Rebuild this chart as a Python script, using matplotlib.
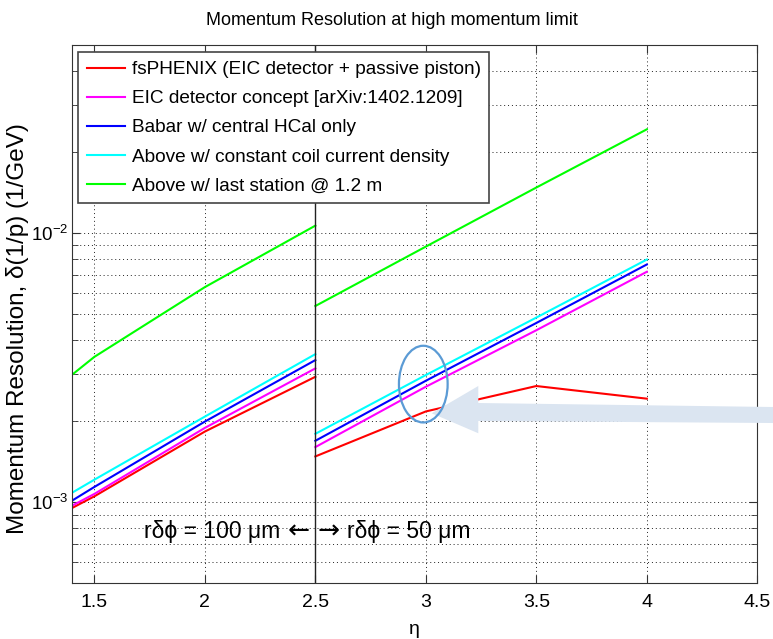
import matplotlib
matplotlib.use("Agg")
import matplotlib.pyplot as plt
from matplotlib.patches import Ellipse, Polygon
from matplotlib.ticker import LogLocator, NullFormatter

plt.rcParams["font.family"] = ["Liberation Sans", "DejaVu Sans"]
plt.rcParams["mathtext.default"] = "regular"

# eta points: inner region (r dphi = 100 um) and outer region (r dphi = 50 um)
eta_in = [1.4, 1.5, 2.0, 2.5]
eta_out = [2.5, 3.0, 3.5, 4.0]

# momentum resolution delta(1/p) in 1/GeV
fsphenix_in = [9.53e-4, 1.052e-3, 1.831e-3, 2.925e-3]
fsphenix_out = [1.480e-3, 2.175e-3, 2.703e-3, 2.426e-3]
eic_in = [9.72e-4, 1.074e-3, 1.889e-3, 3.143e-3]
eic_out = [1.603e-3, 2.687e-3, 4.356e-3, 7.184e-3]
babar_in = [1.015e-3, 1.140e-3, 1.994e-3, 3.374e-3]
babar_out = [1.692e-3, 2.828e-3, 4.636e-3, 7.647e-3]
coil_in = [1.086e-3, 1.213e-3, 2.081e-3, 3.551e-3]
coil_out = [1.796e-3, 2.969e-3, 4.855e-3, 7.977e-3]
station_in = [2.981e-3, 3.469e-3, 6.30e-3, 1.066e-2]
station_out = [5.36e-3, 8.91e-3, 1.477e-2, 2.43e-2]

labels = [
    "fsPHENIX (EIC detector + passive piston)",
    "EIC detector concept [arXiv:1402.1209]",
    "Babar w/ central HCal only",
    "Above w/ constant coil current density",
    "Above w/ last station @ 1.2 m",
]
colors = ["#ff0000", "#ff00ff", "#0000ff", "#00ffff", "#00ff00"]

xticks = [1.5, 2.0, 2.5, 3.0, 3.5, 4.0, 4.5]
xtick_labels = ["1.5", "2", "2.5", "3", "3.5", "4", "4.5"]

series = [
    (fsphenix_in, fsphenix_out),
    (eic_in, eic_out),
    (babar_in, babar_out),
    (coil_in, coil_out),
    (station_in, station_out),
]

fig = plt.figure(figsize=(7.73, 6.39), dpi=100)
ax = fig.add_axes([0.0935, 0.0872, 0.8862, 0.8424])

for (inner, outer), lab, col in zip(series, labels, colors):
    ax.plot(eta_in, inner, color=col, lw=1.5, label=lab)
    ax.plot(eta_out, outer, color=col, lw=1.5)

ax.set_yscale("log")
ax.set_xlim(1.4, 4.5)
ax.set_ylim(5e-4, 5e-2)
ax.set_xticks(xticks)
ax.set_xticklabels(xtick_labels)
ax.yaxis.set_major_locator(LogLocator(base=10))
ax.yaxis.set_minor_locator(LogLocator(base=10, subs=range(2, 10)))
ax.yaxis.set_minor_formatter(NullFormatter())

dots = (0, (1, 3))
ax.grid(True, which="major", axis="both", ls=dots, color="#222222", lw=0.7)
ax.grid(True, which="minor", axis="y", ls=dots, color="#222222", lw=0.7)
ax.tick_params(which="both", direction="in", top=True, right=True,
               color="#333333")
ax.tick_params(axis="x", labelsize=14, pad=8)
ax.tick_params(axis="y", labelsize=13.5, pad=3)
ax.tick_params(which="major", length=6)
ax.tick_params(which="minor", length=4)
for sp in ax.spines.values():
    sp.set_color("#333333")

# boundary between the two r dphi regions
ax.axvline(2.5, color="#222222", lw=1.0)

ax.text(2.340, 7.8e-4, "rδϕ = 100 μm", ha="right", va="center", fontsize=16.5)
ax.text(2.4243, 7.8e-4, "←", ha="center", va="center", fontsize=19,
        family="DejaVu Sans")
ax.text(2.5616, 7.8e-4, "→", ha="center", va="center", fontsize=19,
        family="DejaVu Sans")
ax.text(2.643, 7.8e-4, "rδϕ = 50 μm", ha="left", va="center", fontsize=16.5)

ax.set_title("Momentum Resolution at high momentum limit", fontsize=13,
             x=0.466, y=1.046, va="center", pad=0)
ax.set_ylabel("Momentum Resolution, δ(1/p) (1/GeV)", fontsize=17.5)
ax.yaxis.set_label_coords(-0.08, 0.473)
ax.yaxis.label.set_va("center")
ax.set_xlabel("η", fontsize=14)
ax.xaxis.set_label_coords(0.5, -0.07)
ax.xaxis.label.set_va("top")

leg = ax.legend(loc="upper left", bbox_to_anchor=(0.0088, 0.9864),
                borderaxespad=0, fontsize=13.7, fancybox=False,
                framealpha=1, edgecolor="#444444", handlelength=2.0,
                handletextpad=0.35, borderpad=0.45, labelspacing=0.62)
leg.get_frame().set_linewidth(1.2)

# highlight of the crossing at eta = 3 and the pointer towards it
ax.add_patch(Polygon([(0.5247, 0.3158), (0.5927, 0.3665), (0.5927, 0.3349),
                      (1.05, 0.3270), (1.05, 0.2975), (0.5927, 0.3015),
                      (0.5927, 0.2787)],
                     closed=True, transform=ax.transAxes, clip_on=False,
                     facecolor="#dbe5f1", edgecolor="none", zorder=6))
ax.add_patch(Ellipse((0.5124, 0.370), 0.0711, 0.1425, transform=ax.transAxes,
                     fill=False, edgecolor="#5b9bd5", lw=1.6, zorder=7))

fig.savefig("out.png", dpi=100)
